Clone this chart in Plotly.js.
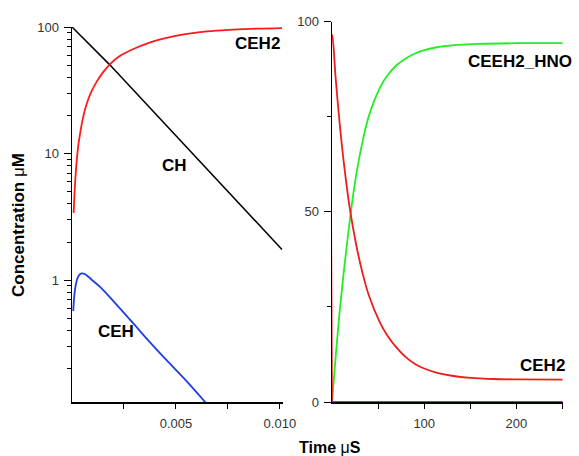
<!DOCTYPE html>
<html>
<head>
<meta charset="utf-8">
<script src="https://cdn.plot.ly/plotly-3.0.1.min.js"></script>
<style>html,body{margin:0;padding:0;background:#fff;}#chart{width:579px;height:456px;}</style>
</head>
<body>
<div id="chart"></div>
<script>
// ---- Left panel (log scale), time in µs ----
const chTime   = [0, 0.00183, 0.0101];
const chConc   = [100, 50, 1.75];

const ceh2Time = [0.00008, 0.00014, 0.00023, 0.0003, 0.0004, 0.00054, 0.0007, 0.0009, 0.00119, 0.0015, 0.00183, 0.0023, 0.00295, 0.0037, 0.00455, 0.0053, 0.00615, 0.007, 0.00775, 0.0089, 0.0101];
const ceh2Conc = [3.4, 5.5, 8.9, 11.5, 14.8, 19.5, 24.5, 30, 37, 44, 51, 59, 67, 75, 82, 87, 91, 93.6, 95.3, 97, 98];

const cehTime  = [0.00006, 0.0001, 0.00014, 0.0002, 0.00026, 0.00035, 0.00047, 0.0006, 0.0008, 0.001, 0.00135, 0.002, 0.00295, 0.0037, 0.00455, 0.0055, 0.0066];
const cehConc  = [0.57, 0.72, 0.83, 0.95, 1.03, 1.1, 1.13, 1.12, 1.06, 0.99, 0.885, 0.68, 0.455, 0.33, 0.233, 0.16, 0.1];

// ---- Right panel (linear scale) ----
const redTime   = [0, 0.4, 4, 8.4, 13, 19.2, 26.5, 33, 40, 51.8, 60, 70, 80, 90, 100, 115, 130, 150, 175, 200, 250];
const redConc   = [0, 96.5, 85, 73, 62.5, 51, 41, 34, 28, 21, 17.5, 14.3, 11.8, 10, 8.8, 7.6, 6.9, 6.35, 6.05, 5.95, 5.9];

const greenTime = [0, 4, 8, 12, 16, 19.2, 23, 26.5, 33, 40, 51.8, 60, 70, 80, 90, 100, 115, 130, 160, 200, 250];
const greenConc = [0, 12, 23, 32.5, 41, 47.5, 54.5, 60, 68.3, 75.2, 82.5, 85.8, 88.5, 90.3, 91.6, 92.5, 93.3, 93.7, 94.1, 94.3, 94.3];

const purpleTime = [0, 250];
const purpleConc = [0, 0];

const leftLabels  = ["CEH2", "CH", "CEH"];
const rightLabels = ["CEEH2_HNO", "CEH2"];

const W = 579, H = 456;
const px = v => v / W;
const py = v => 1 - v / H;

const FONT = "Arial, 'Liberation Sans', sans-serif";

const traces = [
  {x: chTime, y: chConc, xaxis: 'x', yaxis: 'y', mode: 'lines', line: {color: '#000000', width: 1.5}},
  {x: ceh2Time, y: ceh2Conc, xaxis: 'x', yaxis: 'y', mode: 'lines', line: {color: '#ff1a1a', width: 1.8, shape: 'spline', smoothing: 1}},
  {x: cehTime, y: cehConc, xaxis: 'x', yaxis: 'y', mode: 'lines', line: {color: '#1f3fe6', width: 1.8, shape: 'spline', smoothing: 1}},
  {x: greenTime, y: greenConc, xaxis: 'x2', yaxis: 'y2', mode: 'lines', line: {color: '#22ee22', width: 1.8, shape: 'spline', smoothing: 1}},
  {x: redTime, y: redConc, xaxis: 'x2', yaxis: 'y2', mode: 'lines', line: {color: '#ee1c1c', width: 1.8, shape: 'spline', smoothing: 1}},
  {x: purpleTime, y: purpleConc, xaxis: 'x2', yaxis: 'y2', mode: 'lines', line: {color: '#9b30b0', width: 1.8}, cliponaxis: false}
];

const minorLog = [0.2,0.3,0.4,0.5,0.6,0.7,0.8,0.9,2,3,4,5,6,7,8,9,20,30,40,50,60,70,80,90];

const axisCommon = {
  showline: true, linecolor: '#000', linewidth: 1.5, mirror: false,
  showgrid: false, zeroline: false, ticks: 'outside', tickcolor: '#000',
  tickwidth: 1, ticklen: 6,
  tickfont: {family: FONT, size: 13, color: '#333'},
  fixedrange: true
};

const layout = {
  width: W, height: H,
  margin: {l: 0, r: 0, t: 0, b: 0},
  paper_bgcolor: '#fff', plot_bgcolor: 'rgba(0,0,0,0)',
  showlegend: false,
  xaxis: Object.assign({}, axisCommon, {
    domain: [px(72), px(283)], anchor: 'y',
    range: [0, 0.01015],
    tickmode: 'array', tickvals: [0.005, 0.01], ticktext: ['0.005', '0.010'],
    ticklen: 5, ticklabelstandoff: 4,
    minor: {tickmode: 'array', tickvals: [0.0025, 0.0075], ticklen: 5, ticks: 'outside', tickcolor: '#000', tickwidth: 1}
  }),
  yaxis: Object.assign({}, axisCommon, {
    domain: [py(402), py(27)], anchor: 'x',
    type: 'log', range: [Math.log10(0.109), 2],
    tickmode: 'array', tickvals: [1, 10, 100], ticktext: ['1', '10', '100'],
    ticklen: 7, ticklabelstandoff: 2,
    minor: {tickmode: 'array', tickvals: minorLog, ticklen: 4, ticks: 'outside', tickcolor: '#000', tickwidth: 1}
  }),
  xaxis2: Object.assign({}, axisCommon, {
    domain: [px(332), px(563)], anchor: 'y2',
    range: [0, 250.5], layer: 'below traces',
    tickmode: 'array', tickvals: [100, 200], ticktext: ['100', '200'],
    ticklen: 5, ticklabelstandoff: 4,
    minor: {tickmode: 'array', tickvals: [50, 150, 250], ticklen: 5, ticks: 'outside', tickcolor: '#000', tickwidth: 1}
  }),
  yaxis2: Object.assign({}, axisCommon, {
    domain: [py(402), py(21.5)], anchor: 'x2',
    range: [0, 100], layer: 'below traces',
    tickmode: 'array', tickvals: [0, 50, 100], ticktext: ['0', '50', '100'],
    ticklen: 7, ticklabelstandoff: 2,
    minor: {tickmode: 'array', tickvals: [25, 75], ticklen: 4, ticks: 'outside', tickcolor: '#000', tickwidth: 1}
  }),
  annotations: [
    {text: '<b>' + leftLabels[0] + '</b>', x: px(257.5), y: py(43), xref: 'paper', yref: 'paper', xanchor: 'center', yanchor: 'middle', showarrow: false, font: {family: FONT, size: 17, color: '#000'}},
    {text: '<b>' + leftLabels[1] + '</b>', x: px(174.5), y: py(165), xref: 'paper', yref: 'paper', xanchor: 'center', yanchor: 'middle', showarrow: false, font: {family: FONT, size: 17, color: '#000'}},
    {text: '<b>' + leftLabels[2] + '</b>', x: px(116), y: py(331.5), xref: 'paper', yref: 'paper', xanchor: 'center', yanchor: 'middle', showarrow: false, font: {family: FONT, size: 17, color: '#000'}},
    {text: '<b>' + rightLabels[0] + '</b>', x: px(466), y: py(62), xref: 'paper', yref: 'paper', xanchor: 'left', yanchor: 'middle', showarrow: false, font: {family: FONT, size: 17, color: '#000'}},
    {text: '<b>' + rightLabels[1] + '</b>', x: px(542.5), y: py(365), xref: 'paper', yref: 'paper', xanchor: 'center', yanchor: 'middle', showarrow: false, font: {family: FONT, size: 17, color: '#000'}},
    {text: '<b>Concentration</b> μ<b>M</b>', x: px(18), y: py(225), xref: 'paper', yref: 'paper', xanchor: 'center', yanchor: 'middle', textangle: -90, showarrow: false, font: {family: FONT, size: 17, color: '#000'}},
    {text: '<b>Time</b> μ<b>S</b>', x: px(330), y: py(447), xref: 'paper', yref: 'paper', xanchor: 'center', yanchor: 'middle', showarrow: false, font: {family: FONT, size: 16, color: '#000'}}
  ]
};

Plotly.newPlot('chart', traces, layout, {staticPlot: true, displayModeBar: false});
</script>
</body>
</html>
